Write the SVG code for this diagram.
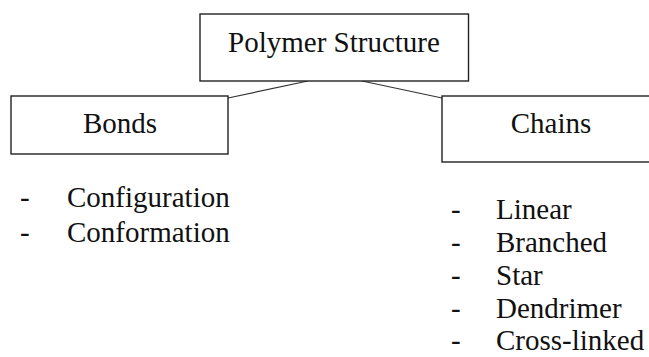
<svg xmlns="http://www.w3.org/2000/svg" width="649" height="357" viewBox="0 0 649 357">
<style>
.box{fill:#fff;stroke:#222;stroke-width:1.4}
.t{font-family:'Liberation Serif','Times New Roman','DejaVu Serif',serif;font-size:29px;fill:#111}
.c{stroke:#333;stroke-width:1.2;fill:none}
</style>
<rect width="649" height="357" fill="#fff"/>
<g id="connectors">
<line class="c" x1="308" y1="81" x2="228" y2="98"/>
<line class="c" x1="362" y1="81" x2="442" y2="98"/>
</g>
<g id="polymer-structure">
<rect class="box" x="200" y="14" width="268.5" height="67"/>
<text class="t" x="334" y="52" text-anchor="middle">Polymer Structure</text>
</g>
<g id="bonds">
<rect class="box" x="11" y="96" width="217" height="58"/>
<text class="t" x="120" y="133" text-anchor="middle">Bonds</text>
</g>
<g id="chains">
<rect class="box" x="442" y="96" width="212" height="66"/>
<text class="t" x="551" y="133" text-anchor="middle">Chains</text>
</g>
<g id="bonds-list">
<text class="t" x="20" y="207">-</text><text class="t" x="67" y="207">Configuration</text>
<text class="t" x="20" y="242">-</text><text class="t" x="67" y="242">Conformation</text>
</g>
<g id="chains-list">
<text class="t" x="451" y="219">-</text><text class="t" x="496" y="219">Linear</text>
<text class="t" x="451" y="252">-</text><text class="t" x="496" y="252">Branched</text>
<text class="t" x="451" y="285">-</text><text class="t" x="496" y="285">Star</text>
<text class="t" x="451" y="318">-</text><text class="t" x="496" y="318">Dendrimer</text>
<text class="t" x="451" y="350">-</text><text class="t" x="496" y="350">Cross-linked</text>
</g>
</svg>
